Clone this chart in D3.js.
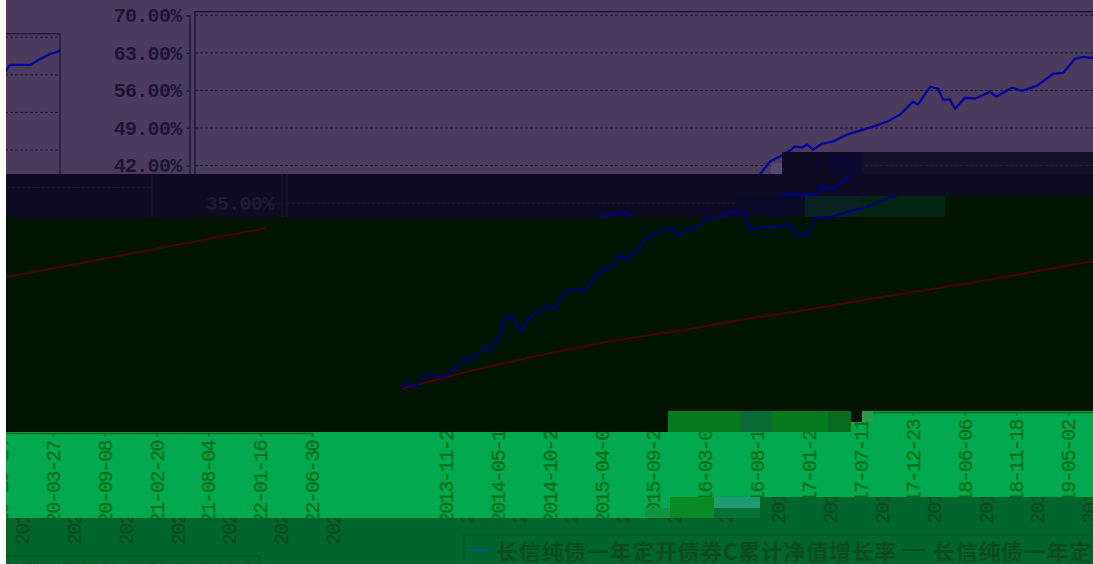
<!DOCTYPE html>
<html><head><meta charset="utf-8">
<style>html,body{margin:0;padding:0;background:#fff;overflow:hidden}svg{display:block}</style>
<script src="https://cdn.jsdelivr.net/npm/d3@7"></script></head><body>
<svg id="c" width="1093" height="564"></svg>
<script>
const startDate = "2013-11-29";
const tickDates = ["2013-11-29","2014-05-13","2014-10-25","2015-04-08","2015-09-20","2016-03-03","2016-08-15","2017-01-27","2017-07-11","2017-12-23","2018-06-06","2018-11-18","2019-05-02","2019-10-14","2020-03-27","2020-09-08","2021-02-20","2021-08-04","2022-01-16","2022-06-30"];
const yTicks = [0,7,14,21,28,35,42,49,56,63,70];
const navDays = [2,13,34,45,60,82,102,121,145,172,197,229,261,289,315,336,356,382,411,442,474,490,506,532,559,575,595,618,643,675,694,723,750,777,802,846,862,878,904,936,968,993,1015,1057,1073,1095,1111,1136,1196,1228,1259,1280,1302,1324,1366,1416,1480,1544,1598,1655,1693,1703,1735,1767,1798,1830,1862,1894,1910,1932,1948,1967,1996,2031,2075,2107,2158,2203,2244,2285,2301,2340,2365,2381,2403,2419,2451,2483,2530,2550,2600,2632,2680,2731,2763,2801,2826,2858,2963,2976,2998,3040,3072,3103,3135];
const navGrowth = [0.43,1.36,1.17,0.80,1.73,3.08,3.08,2.47,2.90,4.14,5.63,6.00,7.73,7.86,10.33,14.04,13.80,11.25,13.80,14.97,15.84,15.28,17.14,18.87,19.00,18.44,19.37,21.41,22.58,23.32,25.18,24.75,25.87,28.28,29.21,30.32,30.32,29.02,29.82,30.51,31.68,32.60,32.60,33.11,33.35,32.60,29.82,30.51,30.51,31.25,29.21,28.84,30.14,32.36,32.36,33.29,34.22,35.71,36.82,36.45,37.00,38.12,37.56,38.86,40.35,42.76,43.69,44.80,45.55,45.36,45.92,44.99,46.10,46.47,47.77,48.33,49.26,50.19,51.49,53.90,53.35,56.69,56.32,54.27,54.27,52.60,54.64,54.46,55.76,54.83,56.50,55.94,56.87,59.10,59.29,61.89,62.26,62.07,63.74,64.86,64.86,64.86,65.97,66.90,67.46];
const benchDays = [0,92,251,464,675,888,1101,1311,1461,1830,2203,2308,2562,2880,3135];
const benchGrowth = [0.40,1.79,4.14,6.93,9.40,11.25,13.43,15.28,16.82,20.30,24.19,25.31,28.09,31.62,34.41];
const legendNames = ["长信纯债一年定开债券C累计净值增长率","长信纯债一年定开债券C业绩比较基准收益率"];

const svg = d3.select("#c");
const parse = d3.utcParse("%Y-%m-%d"), fmt = d3.utcFormat("%Y-%m-%d");
const t0 = parse(startDate);
const x = d3.scaleUtc().domain([t0, parse(tickDates[tickDates.length-1])]).range([195,1180]);
const y = d3.scaleLinear().domain([-4,70]).range([412.4,15.3]);
const toDate = d => d3.utcDay.offset(t0, d);
const line = d3.line().x(d=>x(toDate(d[0]))).y(d=>y(d[1]));
const navPts = navDays.map((d,i)=>[d,navGrowth[i]]);
const benchPts = benchDays.map((d,i)=>[d,benchGrowth[i]]);

const P = {
 top:{fill:"#4a3a5c",ink:"#1e1332",blue:"#0000a4",red:"#3a1030"},
 navy:{fill:"#0d0a22",ink:"#1c1a34",blue:"#00008c",red:"#200818"},
 black:{fill:"#001400",ink:"#001800",blue:"#00007a",red:"#3e0808"},
 bright:{fill:"#00a84f",ink:"#05701a"},
 dark:{fill:"#00652b",ink:"#0a4c1c",blue:"#12508a",red:"#0a4a10"}
};
let cid=0;
function draw(rects,pal,dx,dy,parts){
  const id="r"+(cid++);
  const cp=svg.append("clipPath").attr("id",id);
  rects.forEach(r=>cp.append("rect").attr("x",r[0]).attr("y",r[1]).attr("width",r[2]).attr("height",r[3]));
  const o=svg.append("g").attr("clip-path",`url(#${id})`);
  rects.forEach(r=>o.append("rect").attr("x",r[0]).attr("y",r[1]).attr("width",r[2]).attr("height",r[3]).attr("fill",r[4]||pal.fill));
  const g=o.append("g").attr("transform",`translate(${dx},${dy})`);
  if(parts.includes("grid")){
    g.append("g").selectAll("line").data(yTicks).join("line")
     .attr("x1",x.range()[0]).attr("x2",x.range()[1]).attr("y1",d=>y(d)).attr("y2",d=>y(d))
     .attr("stroke",pal.ink).attr("stroke-width",1).attr("stroke-dasharray","3,2");
    g.append("rect").attr("x",195).attr("y",11.7).attr("width",985).attr("height",400.7)
     .attr("fill","none").attr("stroke",pal.ink).attr("stroke-width",1.3);
  }
  if(parts.includes("y")){
    const ya=d3.axisLeft(y).tickValues(yTicks).tickSize(3).tickFormat(d=>d3.format(".2f")(d)+"%");
    const a=g.append("g").attr("transform","translate(189.5,0)").call(ya);
    a.selectAll("path,line").attr("stroke",pal.ink).attr("stroke-width",1.3);
    a.selectAll("text").attr("fill",pal.ink).attr("font-family","'Liberation Mono'").attr("font-weight","bold")
     .attr("font-size",20).attr("letter-spacing",-0.7).attr("x",-8);
  }
  if(parts.includes("lines")){
    g.append("path").attr("d",line(benchPts)).attr("fill","none").attr("stroke",pal.red).attr("stroke-width",2.2);
    g.append("path").attr("d",line(navPts)).attr("fill","none").attr("stroke",pal.blue).attr("stroke-width",2.2);
  }
  if(parts.includes("x")){
    const xa=d3.axisBottom(x).tickValues(tickDates.map(parse)).tickSize(4).tickFormat(fmt);
    const a=g.append("g").attr("transform","translate(0,412)").call(xa);
    a.selectAll("path,line").attr("stroke",pal.ink).attr("stroke-width",1.3);
    a.selectAll("text").attr("fill",pal.ink).attr("font-family","'Liberation Mono'").attr("font-size",20)
     .attr("letter-spacing",-1.6).attr("stroke",pal.ink).attr("stroke-width",0.3)
     .attr("transform","rotate(-90)").attr("text-anchor","end").attr("x",-8).attr("y",0).attr("dy","0.33em");
  }
  if(parts.includes("legend")){
    g.append("rect").attr("x",192).attr("y",535).attr("width",914).attr("height",60)
     .attr("fill","none").attr("stroke",pal.ink).attr("stroke-width",1);
    [[196,224,pal.blue],[631,661,pal.red]].forEach((c,i)=>{
      g.append("rect").attr("x",c[0]).attr("y",549).attr("width",22).attr("height",2).attr("fill",c[2]);
      g.append("text").attr("x",c[1]).attr("y",559.5).text(legendNames[i]).attr("fill",pal.ink)
       .attr("font-family","'Noto Sans CJK SC'").attr("font-weight","bold").attr("font-size",22).attr("letter-spacing",0.7);
    });
  }
}
function block(r,fill){svg.append("rect").attr("x",r[0]).attr("y",r[1]).attr("width",r[2]).attr("height",r[3]).attr("fill",fill);}

// top band
draw([[95,0,998,174]],P.top,0,0,["grid","y","lines"]);
draw([[6,0,89,174]],P.top,-1120,22,["grid","lines"]);
block([771,163,11,11],"#55456b");
block([782,152,80,22],"#0f0a24");
draw([[862,152,231,22]],Object.assign({},P.navy,{fill:"#14102a",ink:"#221c3a"}),0,0,["grid"]);
block([828,156,32,16],"#0a0a30");
// second band
draw([[190,174,903,43]],P.navy,92,0,["grid","y","lines"]);
draw([[6,174,184,43]],P.navy,-1028,22,["grid"]);
// third band
draw([[300,217,793,215],[737,196,68,21,"#0b0a26"],[805,196,55,21,"#08201f"],[860,196,85,21,"#002412"],[945,196,148,21]],P.black,206,0,["lines"]);
draw([[6,217,294,215]],P.black,-914,22,["lines"]);
// patches above the x axis
block([668,411,183,21],"#067a1c");
block([740,411,32,21],"#0a6a34");
block([828,411,23,21],"#0a6a1c");
block([862,411,11,11],"#2a9a50");
// bright axis band
draw([[400,432,270,86],[670,432,423,65],[851,422,242,10],[873,411,220,11]],P.bright,251,0,["x"]);
draw([[6,432,394,86]],P.bright,-868,21,["x"]);
block([645,508,25,10],"#12933f");
block([670,497,44,21],"#0a8a25");
block([714,497,46,11],"#1c9a72");
block([714,508,46,10],"#06703a");
// dark band
draw([[400,518,693,46],[760,497,333,21]],P.dark,272,0,["x","legend"]);
draw([[6,518,394,46]],P.dark,-847,21,["x","legend"]);
</script></body></html>
